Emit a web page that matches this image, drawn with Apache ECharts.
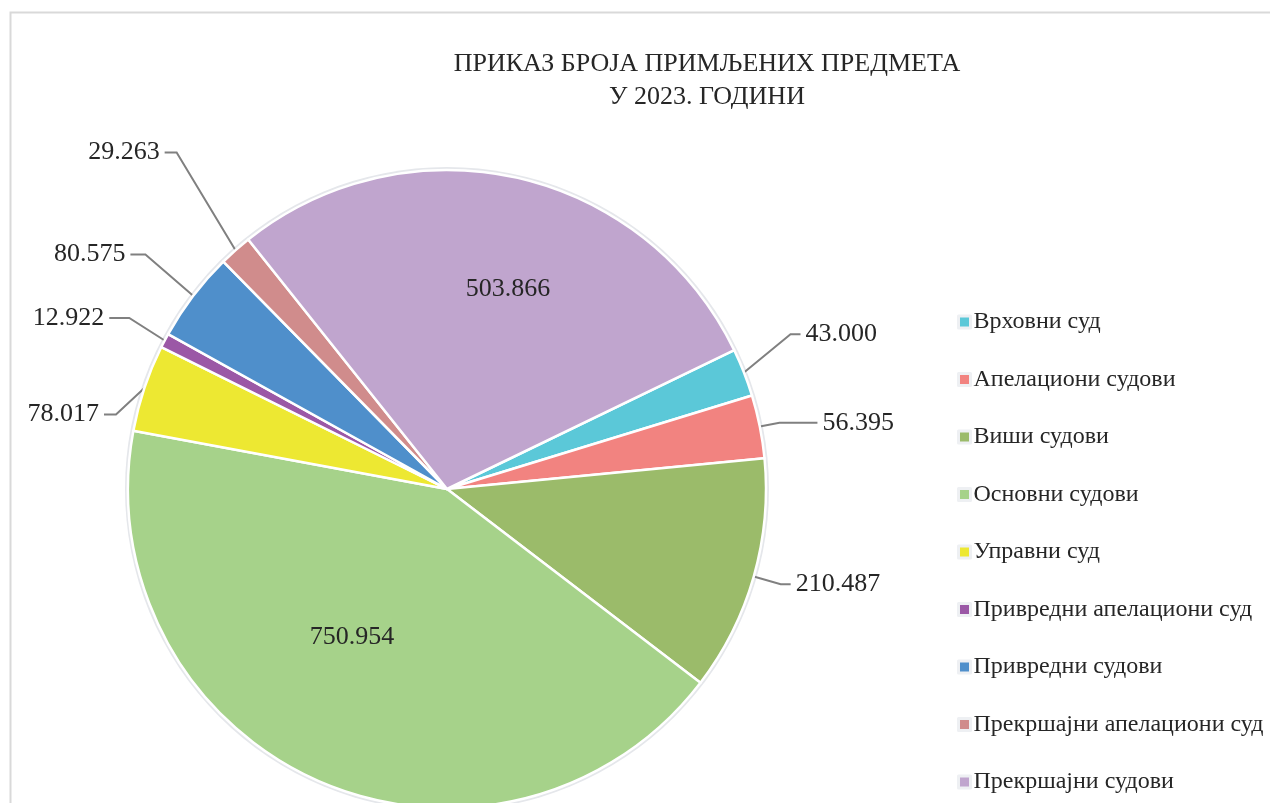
<!DOCTYPE html>
<html>
<head>
<meta charset="utf-8">
<script src="https://cdn.jsdelivr.net/npm/echarts@6/dist/echarts.min.js"></script>
<style>
    html, body { margin: 0; padding: 0; background: #fff; }
    #chart { width: 1270px; height: 803px; }
</style>
</head>
<body>
<div id="chart"></div>
<script>
// категорије и вредности (примљени предмети 2023)
var courts = ['Врховни суд', 'Апелациони судови', 'Виши судови', 'Основни судови', 'Управни суд',
    'Привредни апелациони суд', 'Привредни судови', 'Прекршајни апелациони суд', 'Прекршајни судови'];
var received = [43000, 56395, 210487, 750954, 78017, 12922, 80575, 29263, 503866];
var colors = ['#5bc8d8', '#f28380', '#9bbb6a', '#a6d28a', '#ede832', '#9b58a6', '#4f8fcb', '#d08c8c', '#c0a5ce'];

var serif = "'Liberation Serif', 'Times New Roman', serif";

function fmt(v) {
    return String(v).replace(/\B(?=(\d{3})+(?!\d))/g, '.');
}

// дужине линија до ознака (радијални део, хоризонтални део)
var lineLen = [50, 20, 28, 0, 30, 40, 60, 125, 0];
var lineLen2 = [10, 38, 10, 0, 12, 20, 15, 12, 0];
var insideIdx = [3, 8];
// мала померања ознака као у Excel-у
var nudge = {0: [0, -20], 3: [-29, 0], 4: [0, 36], 5: [0, -4], 6: [0, -5], 7: [24, -4], 8: [25, -41]};

var pieData = courts.map(function (name, i) {
    var inside = insideIdx.indexOf(i) >= 0;
    return {
        name: name,
        value: received[i],
        itemStyle: {color: colors[i]},
        label: {position: inside ? 'inside' : 'outside'},
        labelLine: {show: !inside, length: lineLen[i], length2: lineLen2[i]}
    };
});

var myChart = echarts.init(document.getElementById('chart'));

var option = {
    animation: false,
    title: {
        text: 'ПРИКАЗ БРОЈА ПРИМЉЕНИХ ПРЕДМЕТА\nУ 2023. ГОДИНИ',
        left: 702,
        top: 43,
        textAlign: 'center',
        textStyle: {fontFamily: serif, fontSize: 26, fontWeight: 'normal', color: '#262626', lineHeight: 33}
    },
    legend: {
        orient: 'vertical',
        left: 957,
        top: 310,
        padding: 0,
        data: courts,
        icon: 'rect',
        itemWidth: 12,
        itemHeight: 12,
        itemGap: 33.5,
        itemStyle: {borderColor: '#eef0f3', borderWidth: 3},
        textStyle: {fontFamily: serif, fontSize: 24, color: '#262626', lineHeight: 24, padding: [0, 0, 0, -2]}
    },
    graphic: [{
        type: 'rect',
        left: 8,
        top: 10,
        z: -10,
        shape: {width: 1300, height: 900},
        style: {fill: 'none', stroke: '#d9d9d9', lineWidth: 2}
    }],
    series: [
        {
            // светлосиви обод пите
            type: 'pie',
            center: [447, 489],
            radius: 322,
            silent: true,
            z: 1,
            label: {show: false},
            labelLine: {show: false},
            data: [{name: 'обод', value: 1, itemStyle: {color: '#e5e7eb'}}]
        },
        {
            type: 'pie',
            center: [447, 489],
            radius: 319,
            startAngle: 25.8,
            clockwise: true,
            avoidLabelOverlap: false,
            z: 2,
            itemStyle: {borderColor: '#ffffff', borderWidth: 2.5},
            label: {
                show: true,
                fontFamily: serif,
                fontSize: 26,
                color: '#262626',
                formatter: function (p) { return fmt(p.value); }
            },
            labelLine: {lineStyle: {color: '#808080', width: 2}, smooth: false},
            labelLayout: function (p) {
                var d = nudge[p.dataIndex];
                if (!d) return {};
                var res = {dx: d[0], dy: d[1]};
                var pts = p.labelLinePoints;
                if (pts && pts.length === 3) {
                    // почетак линије остаје на ивици исечка, остатак прати ознаку
                    res.labelLinePoints = [
                        [pts[0][0], pts[0][1]],
                        [pts[1][0] + d[0], pts[1][1] + d[1]],
                        [pts[2][0] + d[0], pts[2][1] + d[1]]
                    ];
                }
                return res;
            },
            data: pieData
        }
    ]
};

myChart.setOption(option);
</script>
</body>
</html>
